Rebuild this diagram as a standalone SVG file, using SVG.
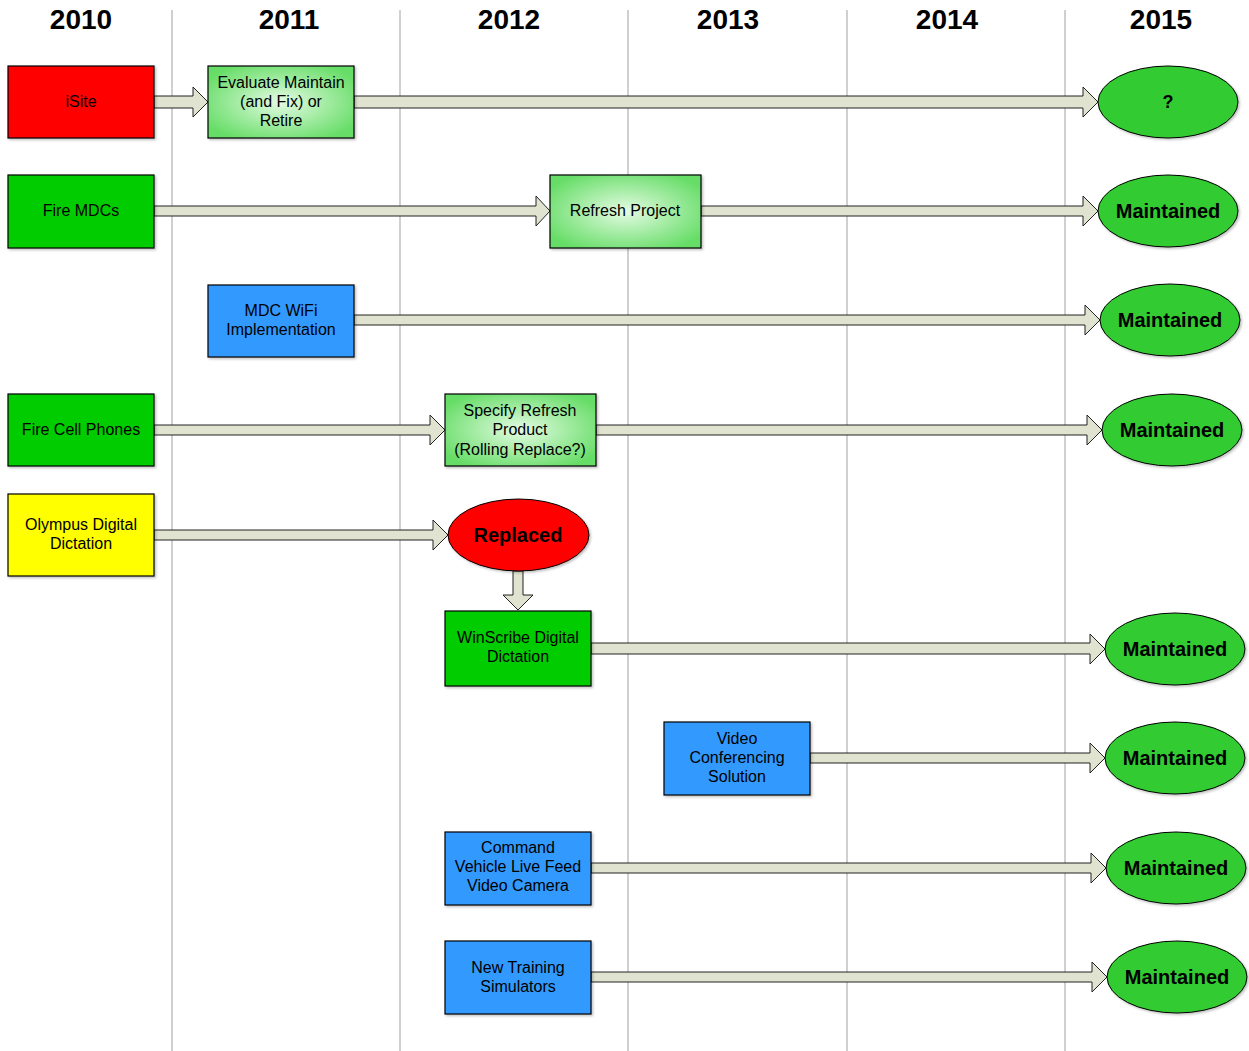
<svg xmlns="http://www.w3.org/2000/svg" width="1249" height="1051" viewBox="0 0 1249 1051">
<defs>
<radialGradient id="lg" cx="50%" cy="50%" r="60%">
<stop offset="0" stop-color="#e4fbe4"/>
<stop offset="1" stop-color="#66dd66"/>
</radialGradient>
<filter id="sh" x="-10%" y="-10%" width="130%" height="130%">
<feDropShadow dx="1.5" dy="1.5" stdDeviation="1" flood-color="#000" flood-opacity="0.25"/>
</filter>
</defs>
<style>
.grid{stroke:#c0c0c0;stroke-width:1.5}
.yr{font-family:"Liberation Sans",Arial,sans-serif;font-size:28px;font-weight:bold;text-anchor:middle;fill:#000}
.box{stroke:#000;stroke-width:1.2;filter:url(#sh)}
.ell{stroke:#000;stroke-width:1;fill:#33cc33;filter:url(#sh)}
.t{font-family:"Liberation Sans",Arial,sans-serif;font-size:16px;text-anchor:middle;fill:#000}
.b{font-family:"Liberation Sans",Arial,sans-serif;font-size:20px;font-weight:bold;text-anchor:middle;fill:#000}
.arr{fill:#dfe3cf;stroke:#222;stroke-width:1}
</style>
<rect width="1249" height="1051" fill="#fff"/>
<g id="grid">
<line class="grid" x1="172" y1="10" x2="172" y2="1051"/>
<line class="grid" x1="400" y1="10" x2="400" y2="1051"/>
<line class="grid" x1="628" y1="10" x2="628" y2="1051"/>
<line class="grid" x1="847" y1="10" x2="847" y2="1051"/>
<line class="grid" x1="1065" y1="10" x2="1065" y2="1051"/>
</g>
<g id="years">
<text class="yr" x="81" y="29">2010</text>
<text class="yr" x="289" y="29">2011</text>
<text class="yr" x="509" y="29">2012</text>
<text class="yr" x="728" y="29">2013</text>
<text class="yr" x="947" y="29">2014</text>
<text class="yr" x="1161" y="29">2015</text>
</g>
<g id="connectors">
<path class="arr" d="M154,96 H193 V87 L208,102 L193,117 V108 H154 Z"/>
<path class="arr" d="M354,96 H1083 V87 L1098,102 L1083,117 V108 H354 Z"/>
<path class="arr" d="M154,206 H536 V196 L550,211 L536,226 V216 H154 Z"/>
<path class="arr" d="M701,206 H1083 V196 L1098,211 L1083,226 V216 H701 Z"/>
<path class="arr" d="M354,315 H1085 V305 L1100,320 L1085,335 V325 H354 Z"/>
<path class="arr" d="M154,425 H430 V415 L445,430 L430,445 V435 H154 Z"/>
<path class="arr" d="M596,425 H1087 V415 L1102,430 L1087,445 V435 H596 Z"/>
<path class="arr" d="M154,530 H433 V520 L448,535 L433,550 V540 H154 Z"/>
<path class="arr" d="M513,571 V595 H503 L518,610 L533,595 H523 V571 Z"/>
<path class="arr" d="M591,643 H1090 V634 L1105,649 L1090,664 V654 H591 Z"/>
<path class="arr" d="M810,753 H1090 V743 L1105,758 L1090,773 V763 H810 Z"/>
<path class="arr" d="M591,863 H1091 V853 L1106,868 L1091,883 V873 H591 Z"/>
<path class="arr" d="M591,972 H1092 V962 L1107,977 L1092,992 V982 H591 Z"/>
</g>
<g id="isite"><rect class="box" x="8" y="66" width="146" height="72" fill="#ff0000"/><text class="t" x="81" y="107">iSite</text></g>
<g id="evaluate"><rect class="box" x="208" y="66" width="146" height="72" fill="url(#lg)"/><text class="t" x="281" y="88">Evaluate Maintain</text><text class="t" x="281" y="107">(and Fix) or</text><text class="t" x="281" y="126">Retire</text></g>
<g id="q"><ellipse class="ell" cx="1168" cy="102" rx="70" ry="36"/><text class="b" x="1168" y="108" style="font-size:18px">?</text></g>
<g id="firemdcs"><rect class="box" x="8" y="175" width="146" height="73" fill="#00cc00"/><text class="t" x="81" y="216">Fire MDCs</text></g>
<g id="refresh"><rect class="box" x="550" y="175" width="151" height="73" fill="url(#lg)"/><text class="t" x="625" y="216">Refresh Project</text></g>
<g id="m1"><ellipse class="ell" cx="1168" cy="211" rx="70" ry="36"/><text class="b" x="1168" y="218">Maintained</text></g>
<g id="wifi"><rect class="box" x="208" y="285" width="146" height="72" fill="#3399ff"/><text class="t" x="281" y="316">MDC WiFi</text><text class="t" x="281" y="335">Implementation</text></g>
<g id="m2"><ellipse class="ell" cx="1170" cy="320" rx="70" ry="36"/><text class="b" x="1170" y="327">Maintained</text></g>
<g id="cell"><rect class="box" x="8" y="394" width="146" height="72" fill="#00cc00"/><text class="t" x="81" y="435">Fire Cell Phones</text></g>
<g id="specify"><rect class="box" x="445" y="394" width="151" height="72" fill="url(#lg)"/><text class="t" x="520" y="416">Specify Refresh</text><text class="t" x="520" y="435">Product</text><text class="t" x="520" y="455">(Rolling Replace?)</text></g>
<g id="m3"><ellipse class="ell" cx="1172" cy="430" rx="70" ry="36"/><text class="b" x="1172" y="437">Maintained</text></g>
<g id="olympus"><rect class="box" x="8" y="494" width="146" height="82" fill="#ffff00"/><text class="t" x="81" y="530">Olympus Digital</text><text class="t" x="81" y="549">Dictation</text></g>
<g id="replaced"><ellipse cx="518.5" cy="535" rx="70.5" ry="36" fill="#ff0000" stroke="#000" stroke-width="1" filter="url(#sh)"/><text class="b" x="518" y="542">Replaced</text></g>
<g id="winscribe"><rect class="box" x="445" y="611" width="146" height="75" fill="#00cc00"/><text class="t" x="518" y="643">WinScribe Digital</text><text class="t" x="518" y="662">Dictation</text></g>
<g id="m4"><ellipse class="ell" cx="1175" cy="649" rx="70" ry="36"/><text class="b" x="1175" y="656">Maintained</text></g>
<g id="video"><rect class="box" x="664" y="722" width="146" height="73" fill="#3399ff"/><text class="t" x="737" y="744">Video</text><text class="t" x="737" y="763">Conferencing</text><text class="t" x="737" y="782">Solution</text></g>
<g id="m5"><ellipse class="ell" cx="1175" cy="758" rx="70" ry="36"/><text class="b" x="1175" y="765">Maintained</text></g>
<g id="command"><rect class="box" x="445" y="832" width="146" height="73" fill="#3399ff"/><text class="t" x="518" y="853">Command</text><text class="t" x="518" y="872">Vehicle Live Feed</text><text class="t" x="518" y="891">Video Camera</text></g>
<g id="m6"><ellipse class="ell" cx="1176" cy="868" rx="70" ry="36"/><text class="b" x="1176" y="875">Maintained</text></g>
<g id="training"><rect class="box" x="445" y="941" width="146" height="73" fill="#3399ff"/><text class="t" x="518" y="973">New Training</text><text class="t" x="518" y="992">Simulators</text></g>
<g id="m7"><ellipse class="ell" cx="1177" cy="977" rx="70" ry="36"/><text class="b" x="1177" y="984">Maintained</text></g>
</svg>
